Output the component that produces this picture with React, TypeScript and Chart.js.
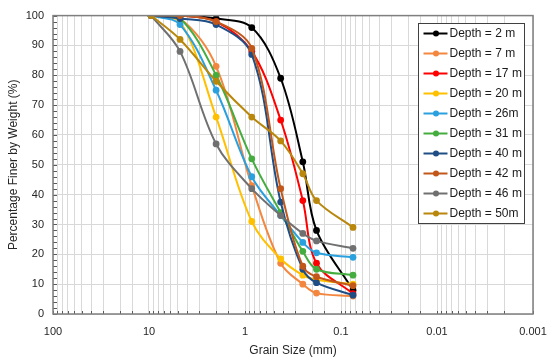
import React, { useEffect, useRef } from "react";
import { Chart, registerables } from "chart.js";
Chart.register(...registerables);

// Sieve sizes (mm)
const sieveSizes = [9.5, 4.75, 2, 0.85, 0.425, 0.25, 0.18, 0.075];

// Percentage finer by weight per depth
const depth2 = [100, 100, 99, 96, 79, 51, 28, 8];
const depth7 = [100, 99, 83, 43, 17, 10, 7, 6];
const depth17 = [100, 100, 98, 88, 65, 38, 17, 6.8];
const depth20 = [100, 98, 66, 31, 18.5, 13, 11.5, 10];
const depth26 = [100, 97, 75, 46, 33, 24, 20.5, 19];
const depth31 = [100, 99, 80, 52, 34, 21, 15, 13];
const depth40 = [100, 99, 97, 87, 37.5, 15, 10.5, 6.3];
const depth42 = [100, 100, 98, 89, 42, 16, 12.5, 9.5];
const depth46 = [100, 88, 57, 42, 33, 27, 24.5, 22];
const depth50 = [100, 92, 78, 66, 58, 47, 38, 29];

const seriesLabels = [
  "Depth = 2 m",
  "Depth = 7 m",
  "Depth = 17 m",
  "Depth = 20 m",
  "Depth = 26m",
  "Depth = 31 m",
  "Depth = 40 m",
  "Depth = 42 m",
  "Depth = 46 m",
  "Depth = 50m",
];
const seriesValues = [depth2, depth7, depth17, depth20, depth26, depth31, depth40, depth42, depth46, depth50];
const seriesColors = [
  "#000000",
  "#F4873F",
  "#FF0000",
  "#FFC000",
  "#2AA0DE",
  "#45AD3F",
  "#1F4E85",
  "#C2571A",
  "#707070",
  "#B8870B",
];

const xTickLabels = ["100", "10", "1", "0.1", "0.01", "0.001"];
const yMin = 0;
const yMax = 100;
const yStep = 10;

const FONT = "'Liberation Sans', Arial, sans-serif";

const framePlugin = {
  id: "frame",
  afterDatasetsDraw(chart: any) {
    const { ctx, chartArea } = chart;
    const { left, right, top, bottom } = chartArea;
    ctx.save();
    ctx.strokeStyle = "#595959";
    ctx.lineWidth = 1;
    const ys = chart.scales.y;
    for (let v = yMin; v <= yMax; v += 2) {
      const py = Math.round(ys.getPixelForValue(v)) + 0.5;
      ctx.beginPath();
      ctx.moveTo(left, py);
      ctx.lineTo(left + 4, py);
      ctx.stroke();
    }
    const xs = chart.scales.x;
    xs.ticks.forEach((t: any) => {
      const px = Math.round(xs.getPixelForValue(t.value)) + 0.5;
      ctx.beginPath();
      ctx.moveTo(px, bottom);
      ctx.lineTo(px, bottom - 3);
      ctx.stroke();
    });
    ctx.strokeStyle = "#7f7f7f";
    ctx.lineWidth = 1.5;
    ctx.strokeRect(left, top, right - left, bottom - top);
    ctx.restore();
  },
  afterDraw(chart: any) {
    const { ctx, chartArea } = chart;
    const rowH = 20;
    const boxW = 106;
    const n = chart.data.datasets.length;
    const x0 = Math.round(chartArea.right - 9 - boxW) + 0.5;
    const y0 = Math.round(chartArea.top + 7) + 0.5;
    ctx.save();
    ctx.fillStyle = "#ffffff";
    ctx.fillRect(x0, y0, boxW, rowH * n);
    ctx.strokeStyle = "#404040";
    ctx.lineWidth = 1;
    ctx.strokeRect(x0, y0, boxW, rowH * n);
    ctx.font = `12px ${FONT}`;
    ctx.textBaseline = "middle";
    ctx.textAlign = "left";
    chart.data.datasets.forEach((ds: any, i: number) => {
      const cy = y0 + rowH * i + rowH / 2;
      ctx.strokeStyle = ds.borderColor;
      ctx.lineWidth = 2;
      ctx.beginPath();
      ctx.moveTo(x0 + 5, cy);
      ctx.lineTo(x0 + 29, cy);
      ctx.stroke();
      ctx.fillStyle = ds.borderColor;
      ctx.beginPath();
      ctx.arc(x0 + 17.5, cy, 3, 0, Math.PI * 2);
      ctx.fill();
      ctx.fillStyle = "#1a1a1a";
      ctx.fillText(ds.label, x0 + 31, cy + 0.5);
    });
    ctx.restore();
  },
};

function fmtTick(v: number): string {
  const lg = Math.log10(v);
  if (Math.abs(lg - Math.round(lg)) > 1e-6) return "";
  const idx = 2 - Math.round(lg);
  return xTickLabels[idx] ?? "";
}

export default function App() {
  const ref = useRef<HTMLCanvasElement | null>(null);
  useEffect(() => {
    document.body.style.margin = "0";
    const datasets = seriesLabels.map((label, i) => ({
      label,
      data: sieveSizes.map((s, j) => ({ x: s, y: seriesValues[i][j] })),
      borderColor: seriesColors[i],
      backgroundColor: seriesColors[i],
      pointBackgroundColor: seriesColors[i],
      pointBorderColor: seriesColors[i],
      pointRadius: 3.4,
      pointBorderWidth: 0,
      borderWidth: 2,
      tension: 0.35,
      fill: false,
      order: seriesLabels.length - i,
    }));
    const chart = new Chart(ref.current as HTMLCanvasElement, {
      type: "line",
      data: { datasets },
      plugins: [framePlugin],
      options: {
        responsive: false,
        animation: false,
        devicePixelRatio: 1,
        layout: { padding: { left: 0, right: 17, top: 10, bottom: 0 } },
        plugins: { legend: { display: false }, tooltip: { enabled: false } },
        scales: {
          x: {
            type: "logarithmic",
            reverse: true,
            min: 0.001,
            max: 100,
            afterFit: (s: any) => {
              s.height = 44;
              s.paddingLeft = 0;
              s.paddingRight = 0;
            },
            grid: { color: "#d9d9d9", lineWidth: 1, drawTicks: false },
            border: { display: false },
            ticks: {
              autoSkip: false,
              maxRotation: 0,
              padding: 11,
              color: "#262626",
              font: { size: 11, family: FONT },
              callback: (v: any) => fmtTick(Number(v)),
            },
            title: {
              display: true,
              text: "Grain Size (mm)",
              color: "#262626",
              font: { size: 12, family: FONT },
              padding: { top: 0, bottom: 0 },
            },
          },
          y: {
            min: yMin,
            max: yMax,
            afterFit: (s: any) => {
              s.width = 53;
            },
            grid: { color: "#d9d9d9", lineWidth: 1, drawTicks: false },
            border: { display: false },
            ticks: {
              stepSize: yStep,
              padding: 9,
              color: "#262626",
              font: { size: 11, family: FONT },
            },
            title: {
              display: true,
              text: "Percentage Finer by Weight (%)",
              color: "#262626",
              font: { size: 12, family: FONT },
              padding: { top: 6, bottom: 0 },
            },
          },
        },
      },
    } as any);
    return () => chart.destroy();
  }, []);
  return (
    <div style={{ position: "absolute", left: 0, top: 0, width: 550, height: 358 }}>
      <canvas ref={ref} width={550} height={358} />
    </div>
  );
}
